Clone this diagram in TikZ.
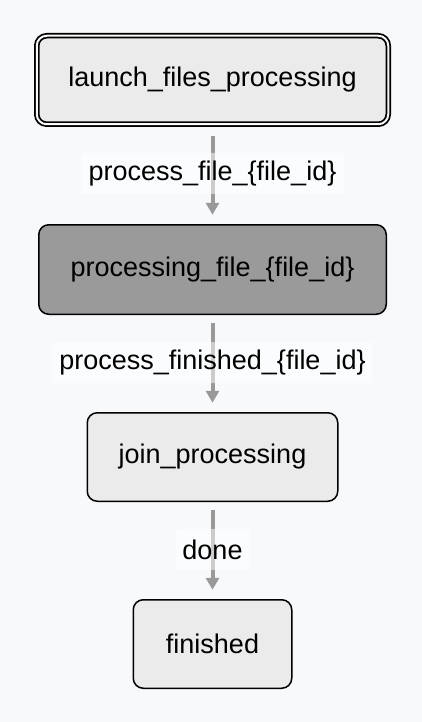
\documentclass[tikz,border=0pt]{standalone}
\usepackage{fontspec}
\setmainfont{Liberation Sans}
\usetikzlibrary{arrows.meta}
\definecolor{pagebg}{HTML}{F8F9FB}
\definecolor{boxfill}{HTML}{EBEBEB}
\definecolor{activefill}{HTML}{9A9A9A}
\definecolor{arrowgray}{HTML}{999999}
\begin{document}
\begin{tikzpicture}[x=1pt,y=-1pt,
  state/.style={draw=black,line width=1.5pt,fill=boxfill,rounded corners=10pt,outer sep=0pt,inner sep=0pt,font=\fontsize{27}{32}\selectfont},
  trans/.style={draw=arrowgray,line width=4pt,-{Triangle[width=13pt,length=12pt]},shorten <=9pt,shorten >=10pt},
  tlabel/.style={fill=white,fill opacity=0.5,text opacity=1,text=black,inner xsep=7pt,inner ysep=0pt,minimum height=41pt,rounded corners=2pt,yshift=1pt,font=\fontsize{27}{32}\selectfont}]
\fill[pagebg] (0,0) rectangle (422,722);
\node[state,line width=1.75pt,double=pagebg,double distance=2pt,minimum width=351.5pt,minimum height=88.5pt] (launch) at (212.5,80){launch\_files\_processing};
\node[state,fill=activefill,minimum width=347.5pt,minimum height=89.5pt] (proc) at (212.5,269.5){processing\_file\_\{file\_id\}};
\node[state,minimum width=250.5pt,minimum height=88.5pt] (join) at (212.5,457){join\_processing};
\node[state,minimum width=158.5pt,minimum height=88.5pt] (fin) at (212.5,644){finished};
\draw[trans,shorten <=12pt] (launch) -- node[tlabel] (lproc) {process\_file\_\{file\_id\}} (proc);
\draw[trans] (proc) -- node[tlabel] (lfin) {process\_finished\_\{file\_id\}} (join);
\draw[trans] (join) -- node[tlabel] (ldone) {done} (fin);
\end{tikzpicture}
\end{document}
